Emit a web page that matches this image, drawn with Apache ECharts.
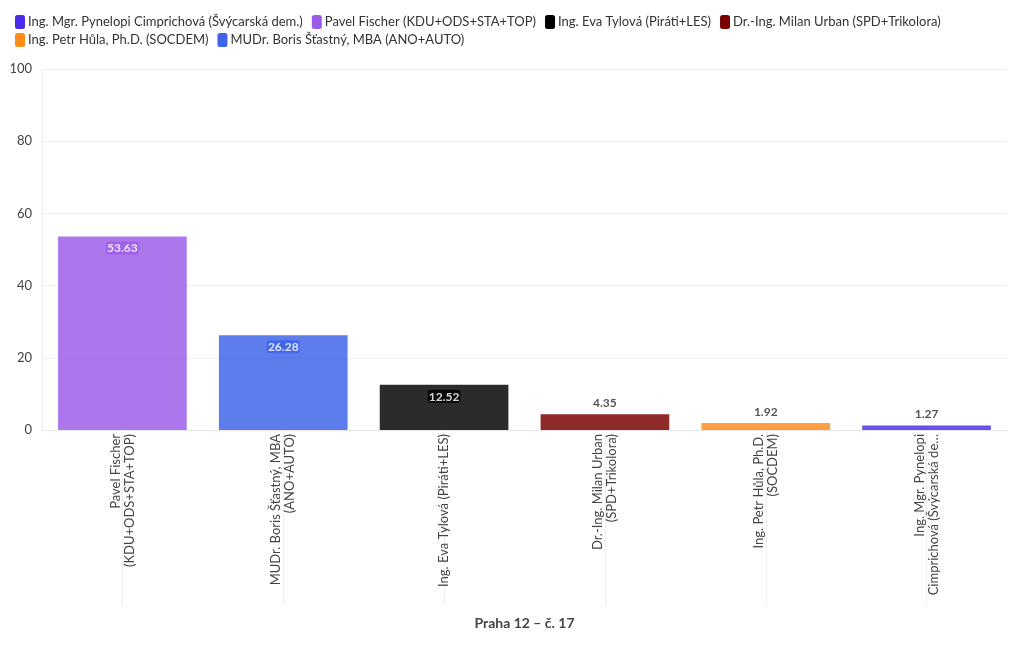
<!DOCTYPE html>
<html>
<head>
<meta charset="utf-8">
<script src="https://cdn.jsdelivr.net/npm/echarts@6/dist/echarts.min.js"></script>
<style>
  html, body { margin: 0; padding: 0; background: #fff; }
  #chart { width: 1020px; height: 650px; }
</style>
</head>
<body>
<div id="chart"></div>
<script>
// candidates in bar order (left to right)
var candidates = [
    'Pavel Fischer (KDU+ODS+STA+TOP)',
    'MUDr. Boris Šťastný, MBA (ANO+AUTO)',
    'Ing. Eva Tylová (Piráti+LES)',
    'Dr.-Ing. Milan Urban (SPD+Trikolora)',
    'Ing. Petr Hůla, Ph.D. (SOCDEM)',
    'Ing. Mgr. Pynelopi Cimprichová (Švýcarská dem.)'
];
// axis tick labels as shown (wrapped / shortened)
var tickLabels = [
    'Pavel Fischer\n(KDU+ODS+STA+TOP)',
    'MUDr. Boris Šťastný, MBA\n(ANO+AUTO)',
    'Ing. Eva Tylová (Piráti+LES)',
    'Dr.-Ing. Milan Urban\n(SPD+Trikolora)',
    'Ing. Petr Hůla, Ph.D.\n(SOCDEM)',
    'Ing. Mgr. Pynelopi\nCimprichová (Švýcarská de…'
];
var votes = [53.63, 26.28, 12.52, 4.35, 1.92, 1.27];
var colors = ['#9b5ce8', '#3d63e8', '#000000', '#7a0000', '#ff8c1a', '#4a2be8'];
// legend order, two rows
var legendRow1 = [
    'Ing. Mgr. Pynelopi Cimprichová (Švýcarská dem.)',
    'Pavel Fischer (KDU+ODS+STA+TOP)',
    'Ing. Eva Tylová (Piráti+LES)',
    'Dr.-Ing. Milan Urban (SPD+Trikolora)'
];
var legendRow2 = [
    'Ing. Petr Hůla, Ph.D. (SOCDEM)',
    'MUDr. Boris Šťastný, MBA (ANO+AUTO)'
];
var yTicks = [0, 20, 40, 60, 80, 100];

var font = 'Lato, "Noto Sans", sans-serif';
var chart = echarts.init(document.getElementById('chart'));

var series = [];
for (var i = 0; i < candidates.length; i++) {
    var data = [];
    for (var j = 0; j < candidates.length; j++) {
        data.push(j === i ? votes[i] : '-');
    }
    var inside = votes[i] > 10;
    series.push({
        name: candidates[i],
        type: 'bar',
        stack: 'all',
        barWidth: '80%',
        data: data,
        itemStyle: { color: colors[i], opacity: 0.83 },
        label: {
            show: true,
            position: inside ? 'insideTop' : 'top',
            distance: 5,
            fontFamily: font,
            fontWeight: 'bold',
            fontSize: 12,
            color: inside ? '#fff' : '#333',
            backgroundColor: inside ? colors[i] : 'transparent',
            padding: [1, 1, 0, 1],
            borderRadius: 2,
            formatter: function (p) { return p.value.toFixed(2); }
        }
    });
}

function legendItems(names) {
    return names.map(function (n) {
        return { name: n, itemStyle: { color: colors[candidates.indexOf(n)], opacity: 1 } };
    });
}

var legendBase = {
    left: 10,
    itemWidth: 10,
    itemHeight: 14,
    itemGap: 9,
    icon: 'roundRect',
    textStyle: { fontFamily: font, fontSize: 13, color: '#333', padding: [0, 0, 0, -2] }
};

var option = {
    animation: false,
    textStyle: { fontFamily: font },
    legend: [
        Object.assign({}, legendBase, { top: 10, data: legendItems(legendRow1) }),
        Object.assign({}, legendBase, { top: 28, data: legendItems(legendRow2) })
    ],
    grid: { left: 42, right: 13, top: 69, bottom: 220, containLabel: false },
    xAxis: {
        type: 'category',
        data: tickLabels,
        name: 'Praha 12 – č. 17',
        nameLocation: 'middle',
        nameGap: 186,
        nameTextStyle: { fontFamily: font, fontSize: 14, fontWeight: 'bold', color: '#444' },
        axisLine: { show: true, lineStyle: { color: '#e6e6e6' } },
        axisTick: { show: true, alignWithLabel: true, length: 175, lineStyle: { color: '#eeeeee' } },
        axisLabel: {
            rotate: 90,
            interval: 0,
            fontFamily: font,
            fontSize: 13,
            color: '#444',
            lineHeight: 14,
            margin: 4
        }
    },
    yAxis: {
        type: 'value',
        min: 0,
        max: yTicks[yTicks.length - 1],
        interval: yTicks[1] - yTicks[0],
        axisLine: { show: true, lineStyle: { color: '#eeeeee' } },
        splitLine: { lineStyle: { color: '#eeeeee' } },
        axisLabel: { fontFamily: font, fontSize: 13, color: '#444', margin: 10 }
    },
    series: series
};
chart.setOption(option);
</script>
</body>
</html>
